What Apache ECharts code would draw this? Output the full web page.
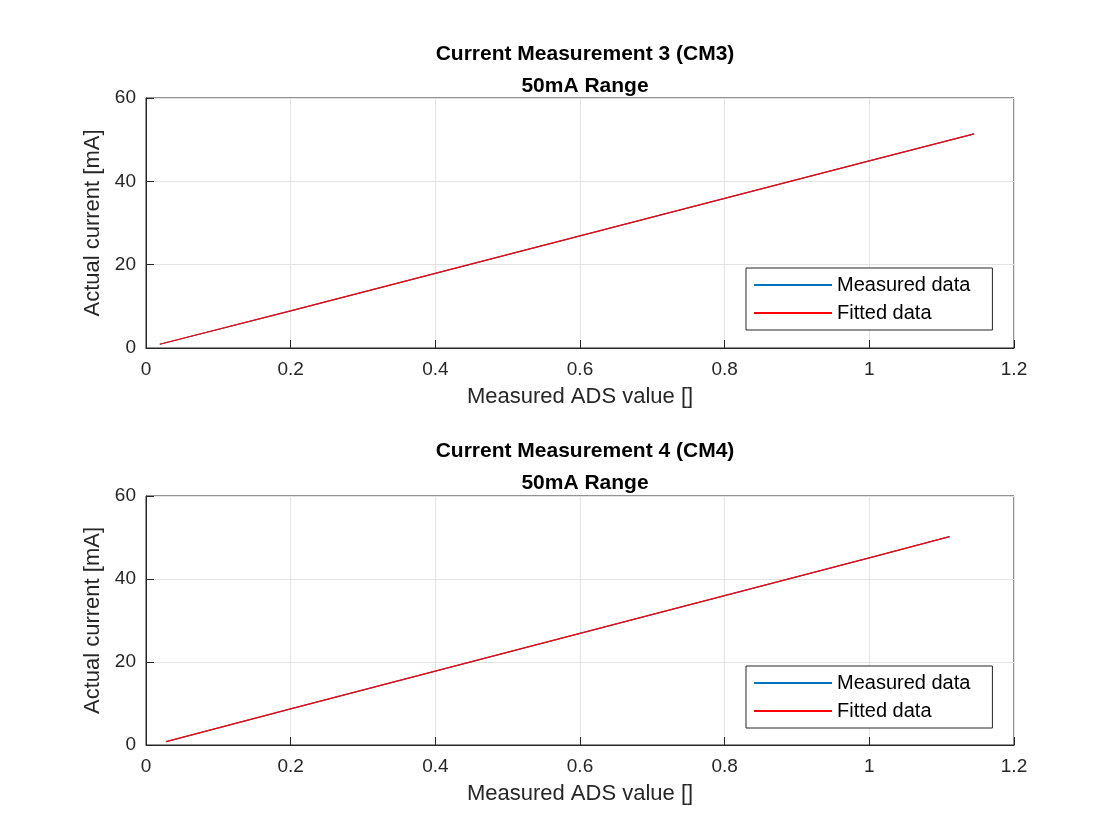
<!DOCTYPE html>
<html>
<head>
<meta charset="utf-8">
<script src="https://cdn.jsdelivr.net/npm/echarts@6/dist/echarts.min.js"></script>
<style>html,body{margin:0;background:#fff}#c{width:1120px;height:840px}</style>
</head>
<body>
<div id="c"></div>
<script>
// ADS value vs actual current, CM3
var cm3Ads = [0.019, 0.2, 0.4, 0.6, 0.8, 1.0, 1.145]
var cm3Measured = [0.9, 8.9, 17.9, 26.9, 35.9, 44.9, 51.4]
var cm3Fitted = [0.9, 8.9, 17.9, 26.9, 35.9, 44.9, 51.4]
// CM4
var cm4Ads = [0.028, 0.2, 0.4, 0.6, 0.8, 1.0, 1.111]
var cm4Measured = [0.8, 8.7, 17.8, 26.9, 36.0, 45.1, 50.2]
var cm4Fitted = [0.8, 8.7, 17.8, 26.9, 36.0, 45.1, 50.2]

function pairs (xs, ys) {
  return xs.map(function (x, i) { return [x, ys[i]] })
}

var font = 'Liberation Sans, Arial, sans-serif'
var grids = [
  { left: 146, top: 98, width: 868, height: 250 },
  { left: 146, top: 496, width: 868, height: 249 }
]

function xAxis (i) {
  return {
    gridIndex: i, type: 'value', min: 0, max: 1.2, interval: 0.2,
    name: 'Measured ADS value []', nameLocation: 'middle', nameGap: 38,
    nameTextStyle: { fontFamily: font, fontSize: 22, color: '#262626' },
    axisLine: { onZero: false, lineStyle: { color: '#262626' } },
    axisTick: { inside: true, length: 8, lineStyle: { color: '#262626' } },
    axisLabel: { fontFamily: font, fontSize: 19, color: '#262626', margin: 12 },
    splitLine: { show: true, lineStyle: { color: '#e3e3e3' } }
  }
}
function yAxis (i) {
  return {
    gridIndex: i, type: 'value', min: 0, max: 60, interval: 20,
    name: 'Actual current [mA]', nameLocation: 'middle', nameGap: 42,
    nameTextStyle: { fontFamily: font, fontSize: 22, color: '#262626' },
    axisLine: { show: true, lineStyle: { color: '#262626' } },
    axisTick: { inside: true, length: 8, lineStyle: { color: '#262626' } },
    axisLabel: { fontFamily: font, fontSize: 19, color: '#262626', margin: 10 },
    splitLine: { show: true, lineStyle: { color: '#e3e3e3' } }
  }
}
function legend (top) {
  return {
    orient: 'vertical', left: 746, top: top,
    backgroundColor: '#fff', borderColor: '#262626', borderWidth: 1,
    padding: [7, 22, 7, 8], itemGap: 8, itemWidth: 78, itemHeight: 2,
    textStyle: { fontFamily: font, fontSize: 20, color: '#000' },
    data: [
      { name: 'Measured data', icon: 'rect', itemStyle: { color: '#0072BD' } },
      { name: 'Fitted data', icon: 'rect', itemStyle: { color: '#FF0000' } }
    ]
  }
}
function line (name, gi, data, color) {
  return {
    name: name, type: 'line', xAxisIndex: gi, yAxisIndex: gi, data: data,
    showSymbol: false, symbol: 'none', animation: false,
    lineStyle: { color: color, width: 1.2 }, itemStyle: { color: color }
  }
}

var chart = echarts.init(document.getElementById('c'))
chart.setOption({
  backgroundColor: '#fff',
  title: [
    { text: 'Current Measurement 3 (CM3)\n50mA Range', left: 580, textAlign: 'center', top: 33,
      textStyle: { fontFamily: font, fontSize: 21, fontWeight: 'bold', color: '#000', lineHeight: 32 } },
    { text: 'Current Measurement 4 (CM4)\n50mA Range', left: 580, textAlign: 'center', top: 430,
      textStyle: { fontFamily: font, fontSize: 21, fontWeight: 'bold', color: '#000', lineHeight: 32 } }
  ],
  legend: [legend(268), legend(666)],
  grid: grids.map(function (g) { return Object.assign({ show: true, borderColor: '#262626', borderWidth: 1 }, g) }),
  xAxis: [xAxis(0), xAxis(1)],
  yAxis: [yAxis(0), yAxis(1)],
  series: [
    line('Measured data', 0, pairs(cm3Ads, cm3Measured), '#0072BD'),
    line('Fitted data', 0, pairs(cm3Ads, cm3Fitted), '#FF0000'),
    line('Measured data', 1, pairs(cm4Ads, cm4Measured), '#0072BD'),
    line('Fitted data', 1, pairs(cm4Ads, cm4Fitted), '#FF0000')
  ]
})
</script>
</body>
</html>
